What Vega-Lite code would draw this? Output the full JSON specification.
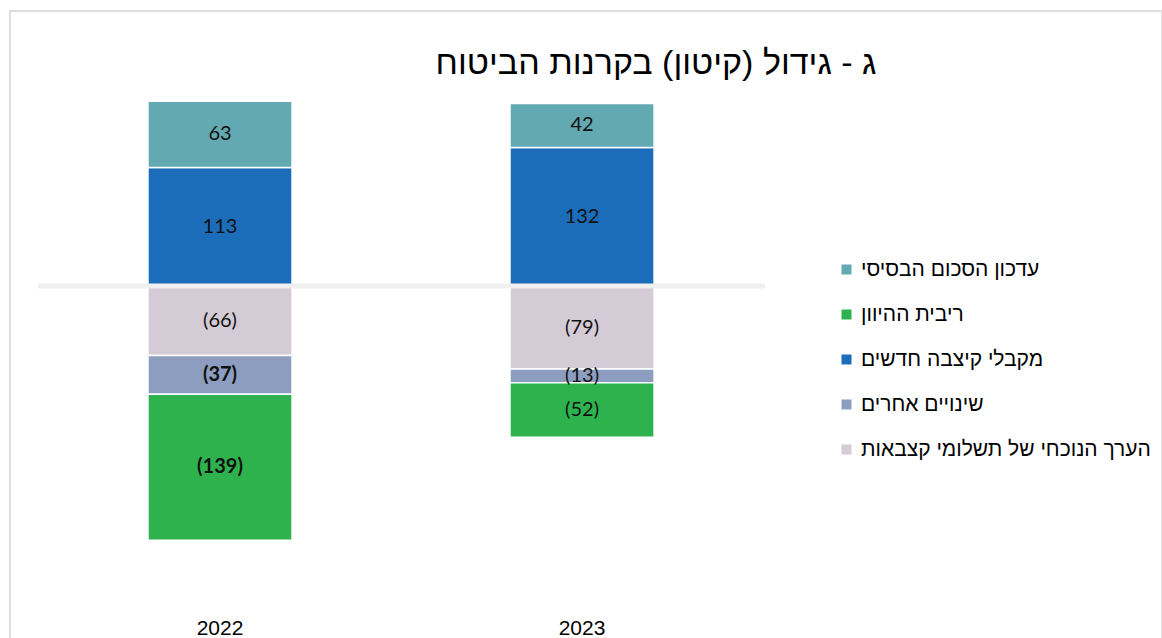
{
  "$schema": "https://vega.github.io/schema/vega-lite/v6.json",
  "width": 1152,
  "height": 630,
  "autosize": {"type": "none"},
  "padding": {"left": 10, "top": 11, "right": 0, "bottom": 0},
  "background": "white",
  "config": {
    "view": {"stroke": "#dedede", "strokeWidth": 2},
    "font": "Liberation Sans"
  },
  "title": {
    "text": "ג - גידול (קיטון) בקרנות הביטוח",
    "font": "Liberation Sans",
    "fontSize": 34,
    "fontWeight": "normal",
    "color": "#000000",
    "anchor": "middle",
    "dx": 70,
    "offset": -97,
    "baseline": "alphabetic"
  },
  "data": {
    "values": [
      {"year": "2022", "category": "מקבלי קיצבה חדשים", "value": 113, "order": 1},
      {"year": "2022", "category": "עדכון הסכום הבסיסי", "value": 63, "order": 2},
      {"year": "2022", "category": "הערך הנוכחי של תשלומי קצבאות", "value": -66, "order": 3},
      {"year": "2022", "category": "שינויים אחרים", "value": -37, "order": 4},
      {"year": "2022", "category": "ריבית ההיוון", "value": -139, "order": 5},
      {"year": "2023", "category": "מקבלי קיצבה חדשים", "value": 132, "order": 1},
      {"year": "2023", "category": "עדכון הסכום הבסיסי", "value": 42, "order": 2},
      {"year": "2023", "category": "הערך הנוכחי של תשלומי קצבאות", "value": -79, "order": 3},
      {"year": "2023", "category": "שינויים אחרים", "value": -13, "order": 4},
      {"year": "2023", "category": "ריבית ההיוון", "value": -52, "order": 5}
    ]
  },
  "encoding": {
    "x": {
      "field": "year",
      "type": "nominal",
      "scale": {"paddingInner": 0.602, "paddingOuter": 0.892, "align": 0.2136},
      "axis": {
        "title": null,
        "labelAngle": 0,
        "ticks": false,
        "domain": false,
        "labelFontSize": 21,
        "labelColor": "#000000",
        "labelFont": "Liberation Sans",
        "labelPadding": 0,
        "offset": -24
      }
    }
  },
  "layer": [
    {
      "mark": {"type": "bar", "stroke": "white", "strokeWidth": 1.5},
      "encoding": {
        "y": {
          "field": "value",
          "type": "quantitative",
          "stack": "zero",
          "scale": {"domain": [-338, 262], "nice": false},
          "axis": null
        },
        "order": {"field": "order", "type": "quantitative"},
        "color": {
          "field": "category",
          "type": "nominal",
          "scale": {
            "domain": ["עדכון הסכום הבסיסי", "ריבית ההיוון", "מקבלי קיצבה חדשים", "שינויים אחרים", "הערך הנוכחי של תשלומי קצבאות"],
            "range": ["#62a9b2", "#2eb24e", "#1c6db9", "#8c9dbf", "#d5cbd7"]
          },
          "legend": {
            "orient": "none",
            "legendX": 826,
            "legendY": 248,
            "title": null,
            "symbolType": "square",
            "symbolSize": 100,
            "symbolStrokeWidth": 0,
            "labelFontSize": 21,
            "labelFont": "Liberation Sans",
            "labelColor": "#000000",
            "labelLimit": 400,
            "labelOffset": 4,
            "rowPadding": 23
          }
        }
      }
    },
    {
      "transform": [
        {"stack": "value", "groupby": ["year"], "sort": [{"field": "order"}], "as": ["v0", "v1"]},
        {"calculate": "(datum.v0 + datum.v1) / 2", "as": "mid"},
        {"filter": "!(datum.year == '2022' && datum.order >= 4)"}
      ],
      "mark": {"type": "text", "font": "Lato", "fontSize": 20, "color": "#111111"},
      "encoding": {
        "y": {"field": "mid", "type": "quantitative"},
        "text": {"field": "value", "type": "quantitative", "format": "(d"}
      }
    },
    {
      "transform": [
        {"stack": "value", "groupby": ["year"], "sort": [{"field": "order"}], "as": ["v0", "v1"]},
        {"calculate": "(datum.v0 + datum.v1) / 2", "as": "mid"},
        {"filter": "datum.year == '2022' && datum.order >= 4"}
      ],
      "mark": {"type": "text", "font": "Lato", "fontSize": 20, "fontWeight": "bold", "color": "#111111"},
      "encoding": {
        "y": {"field": "mid", "type": "quantitative"},
        "text": {"field": "value", "type": "quantitative", "format": "(d"}
      }
    },
    {
      "data": {"values": [{"zero": 0}]},
      "mark": {"type": "rule", "color": "#f0f0f0", "strokeWidth": 5},
      "encoding": {
        "x": {"datum": "2022", "type": "nominal", "bandPosition": -0.764},
        "x2": {"datum": "2023", "bandPosition": 1.77},
        "y": {"field": "zero", "type": "quantitative"}
      }
    }
  ]
}
